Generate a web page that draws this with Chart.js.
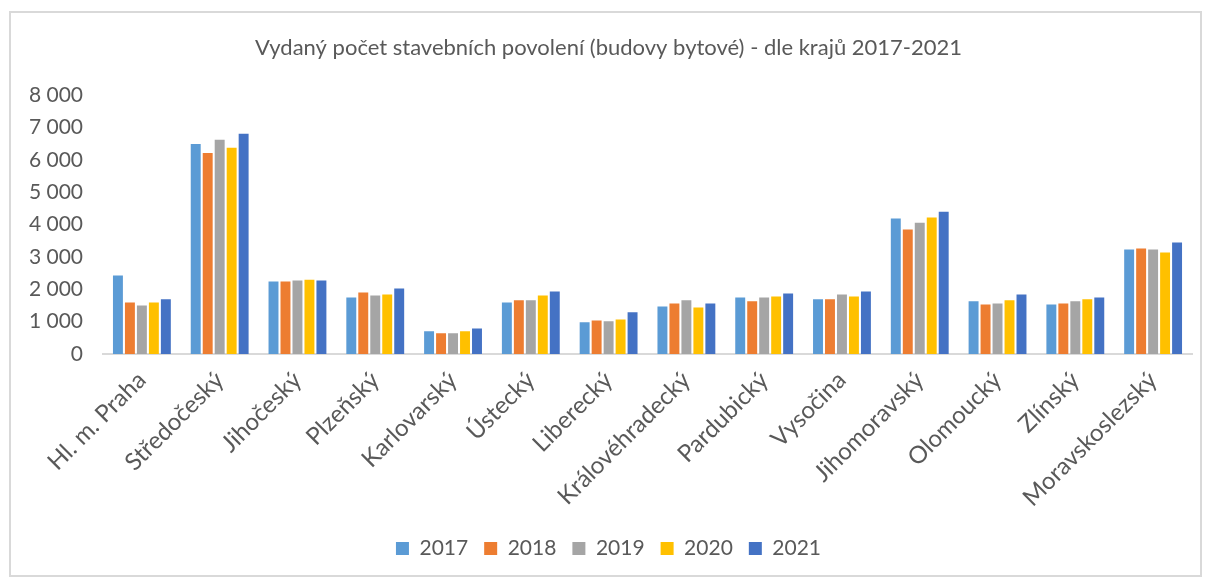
<!DOCTYPE html>
<html>
<head>
<meta charset="utf-8">
<script src="https://cdn.jsdelivr.net/npm/chart.js@4"></script>
<style>
    body { margin: 0; background: #ffffff; }
    .ramecek {
        position: absolute;
        left: 9px;
        top: 11px;
        width: 1189px;
        height: 562px;
        border: 2px solid #d9d9d9;
    }
</style>
</head>
<body>
<div class="ramecek">
    <canvas id="graf" width="1189" height="562"></canvas>
</div>
<script>
const kraje = [
    'Hl. m. Praha', 'Středočeský', 'Jihočeský', 'Plzeňský', 'Karlovarský',
    'Ústecký', 'Liberecký', 'Královéhradecký', 'Pardubický', 'Vysočina',
    'Jihomoravský', 'Olomoucký', 'Zlínský', 'Moravskoslezský'
];

const data2017 = [2430, 6500, 2240, 1750, 700, 1590, 980, 1470, 1750, 1690, 4190, 1630, 1530, 3230];
const data2018 = [1590, 6220, 2240, 1900, 640, 1660, 1040, 1560, 1630, 1690, 3850, 1530, 1560, 3260];
const data2019 = [1500, 6630, 2270, 1810, 640, 1660, 1010, 1660, 1750, 1840, 4060, 1560, 1630, 3230];
const data2020 = [1590, 6380, 2300, 1840, 700, 1810, 1070, 1440, 1780, 1780, 4220, 1660, 1690, 3140];
const data2021 = [1690, 6810, 2270, 2030, 790, 1930, 1290, 1560, 1870, 1930, 4400, 1840, 1750, 3450];

const roky = ['2017', '2018', '2019', '2020', '2021'];
const barvy = ['#5B9BD5', '#ED7D31', '#A5A5A5', '#FFC000', '#4472C4'];
const hodnoty = [data2017, data2018, data2019, data2020, data2021];

Chart.defaults.font.family = 'Lato, "Open Sans", sans-serif';
Chart.defaults.color = '#595959';

const datasety = roky.map((rok, i) => ({
    label: rok,
    data: hodnoty[i],
    backgroundColor: barvy[i],
    borderWidth: 0,
    categoryPercentage: 0.77,
    barPercentage: 0.83
}));

const config = {
    type: 'bar',
    data: {
        labels: kraje,
        datasets: datasety
    },
    options: {
        responsive: false,
        animation: false,
        layout: {
            padding: { left: 14, right: 8, top: 0, bottom: 6 }
        },
        plugins: {
            title: {
                display: true,
                text: 'Vydaný počet stavebních povolení (budovy bytové) - dle krajů 2017-2021',
                font: { size: 22, weight: 'normal' },
                color: '#595959',
                padding: { top: 22, bottom: 34 }
            },
            legend: {
                position: 'bottom',
                labels: {
                    boxWidth: 13,
                    boxHeight: 13,
                    padding: 16,
                    font: { size: 21 },
                    color: '#595959'
                }
            },
            tooltip: { enabled: false }
        },
        scales: {
            x: {
                grid: { display: false },
                border: { display: true, color: '#d9d9d9', width: 2 },
                ticks: {
                    minRotation: 45,
                    maxRotation: 45,
                    font: { size: 24 },
                    color: '#595959',
                    padding: 4
                },
                afterFit: s => { s.height = 168; }
            },
            y: {
                min: 0,
                max: 8000,
                grid: { display: false },
                border: { display: false },
                ticks: {
                    stepSize: 1000,
                    padding: 12,
                    font: { size: 21 },
                    color: '#595959',
                    callback: v => String(v).replace(/\B(?=(\d{3})+(?!\d))/g, ' ')
                },
                afterFit: s => { s.width = 78; }
            }
        }
    }
};

const graf = new Chart(document.getElementById('graf'), config);
</script>
</body>
</html>
